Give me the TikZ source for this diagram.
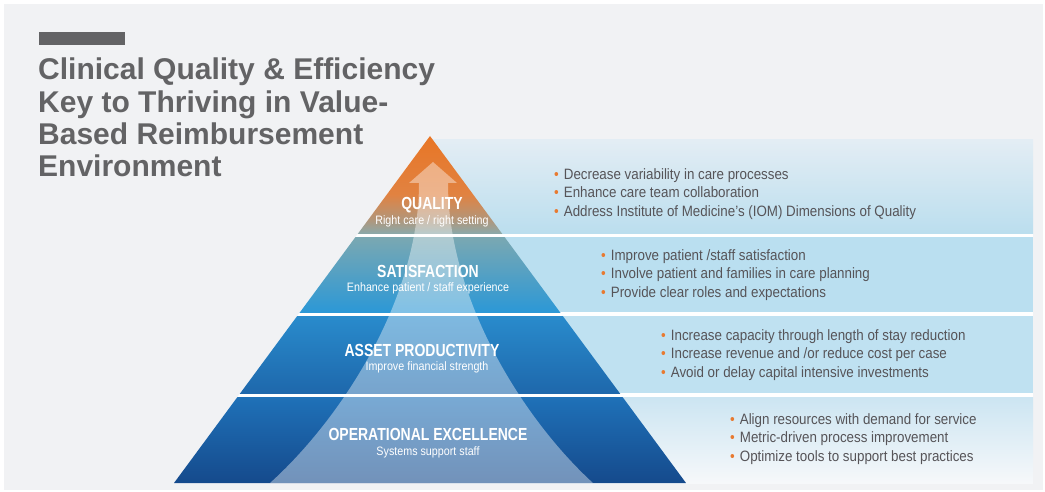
\documentclass[tikz,border=0pt]{standalone}
\usepackage{fontspec}
\setmainfont{Liberation Sans}
\newfontfamily\condbold{Liberation Sans}[FakeStretch=0.8]
\newfontfamily\condreg{Liberation Sans}[FakeStretch=0.88]
\newfontfamily\listfont{Liberation Sans}[FakeStretch=0.89]

\definecolor{bgc}{RGB}{241,242,244}
\definecolor{titlec}{RGB}{99,99,101}
\definecolor{qtop}{RGB}{232,118,38}
\definecolor{qmid}{RGB}{225,130,65}
\definecolor{qlow}{RGB}{178,150,122}
\definecolor{qbot}{RGB}{140,168,168}
\definecolor{stop}{RGB}{122,168,178}
\definecolor{smid}{RGB}{60,188,234}
\definecolor{sbot}{RGB}{44,152,214}
\definecolor{atop}{RGB}{41,139,204}
\definecolor{abot}{RGB}{30,104,172}
\definecolor{otop}{RGB}{31,113,184}
\definecolor{obot}{RGB}{21,74,140}
\definecolor{ponetop}{RGB}{227,237,244}
\definecolor{ponebot}{RGB}{187,222,238}
\definecolor{ptwo}{RGB}{186,223,240}
\definecolor{pthree}{RGB}{191,225,241}
\definecolor{pfourtop}{RGB}{204,229,242}
\definecolor{pfourbot}{RGB}{246,248,250}
\definecolor{dotc}{RGB}{232,122,48}
\definecolor{listc}{RGB}{86,84,88}

\pgfdeclareverticalshading{qualityshade}{100bp}{color(0bp)=(qbot); color(25bp)=(qbot);
  color(32bp)=(qlow); color(45bp)=(qmid); color(75bp)=(qtop); color(100bp)=(qtop)}

\newcommand\pnt[1]{{\color{dotc}•}\hspace{5pt}#1}

\begin{document}
\begin{tikzpicture}[
x=1pt, y=-1pt,
headline/.style={anchor=base west, inner sep=0, text=titlec, font=\bfseries\fontsize{30}{32}\selectfont},
level/.style={anchor=base, inner sep=0, text=white, font=\condbold\bfseries\fontsize{17.5}{18}\selectfont},
sub/.style={anchor=base, inner sep=0, text=white, font=\condreg\fontsize{12.2}{13}\selectfont},
list/.style={anchor=west, align=left, inner sep=0, text=listc, font=\listfont\fontsize{15}{18.8}\selectfont}
]
\useasboundingbox (0,0) rectangle (1045,492);
\fill[white] (0,0) rectangle (1045,492);
\fill[bgc] (4,4) rectangle (1043,490);

% title
\fill[titlec] (39,32) rectangle (125,45);
\foreach \line [count=\i] in {Clinical Quality \& Efficiency, Key to Thriving in Value-, Based Reimbursement, Environment}
  \node[headline] (title-\i) at (38,{80+32.3*(\i-1)}) {\line};

% white underlay shows through the gaps
\fill[white] (430,136) -- (174,483) -- (686,483) -- cycle;
\fill[white] (430,140) rectangle (1033,483);

% panels on the right
\shade[top color=ponetop, bottom color=ponebot] (430,140) rectangle (1033,233);
\fill[ptwo] (430,237) rectangle (1033,312);
\fill[pthree] (430,316) rectangle (1033,393);
\shade[top color=pfourtop, bottom color=pfourbot] (430,397) rectangle (1033,483);

% pyramid
\begin{scope}
\clip (430,136) -- (174,483) -- (686,483) -- cycle;
\shade[shading=qualityshade] (174,136) rectangle (686,233);
\shade[top color=stop, middle color=smid, bottom color=sbot] (174,237) rectangle (686,312);
\shade[top color=atop, bottom color=abot] (174,316) rectangle (686,393);
\shade[top color=otop, bottom color=obot] (174,397) rectangle (686,483);
\fill[white, opacity=.4] (433,162) -- (457,183) -- (448,183)
  .. controls (448,300) and (524,420) .. (593,483) -- (270,483)
  .. controls (340,420) and (419,300) .. (419,183) -- (409,183) -- cycle;
\end{scope}

% levels
\node[level] (q-name) at (432,209) {QUALITY};
\node[sub] (q-sub) at (432,225) {Right care / right setting};
\node[level] (s-name) at (428,277) {SATISFACTION};
\node[sub] (s-sub) at (428,291) {Enhance patient / staff experience};
\node[level] (a-name) at (422,356) {ASSET PRODUCTIVITY};
\node[sub] (a-sub) at (427,370) {Improve financial strength};
\node[level] (o-name) at (428,440) {OPERATIONAL EXCELLENCE};
\node[sub] (o-sub) at (428,455) {Systems support staff};

% bullet lists
\node[list] (q-list) at (554,194) {\pnt{Decrease variability in care processes}\\
  \pnt{Enhance care team collaboration}\\
  \pnt{Address Institute of Medicine’s (IOM) Dimensions of Quality}};
\node[list] (s-list) at (601,275) {\pnt{Improve patient /staff satisfaction}\\
  \pnt{Involve patient and families in care planning}\\
  \pnt{Provide clear roles and expectations}};
\node[list] (a-list) at (661,355) {\pnt{Increase capacity through length of stay reduction}\\
  \pnt{Increase revenue and /or reduce cost per case}\\
  \pnt{Avoid or delay capital intensive investments}};
\node[list] (o-list) at (730,439) {\pnt{Align resources with demand for service}\\
  \pnt{Metric-driven process improvement}\\
  \pnt{Optimize tools to support best practices}};
\end{tikzpicture}
\end{document}
